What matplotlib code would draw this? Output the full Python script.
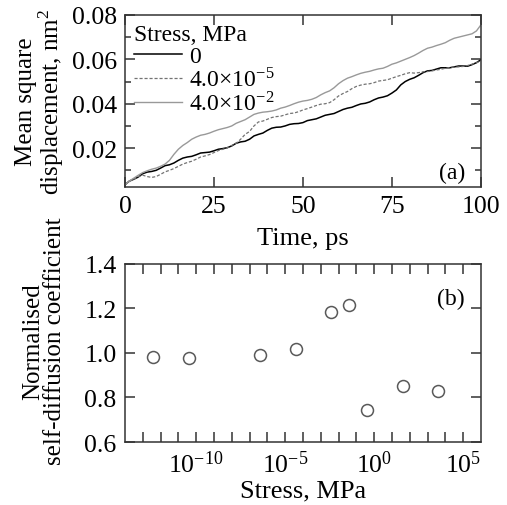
import matplotlib
matplotlib.use("Agg")
import matplotlib.pyplot as plt
from matplotlib.ticker import FixedLocator, MultipleLocator, NullFormatter
import numpy as np

plt.rcParams['font.family'] = 'serif'
plt.rcParams['font.serif'] = ['Liberation Serif', 'DejaVu Serif']
plt.rcParams['mathtext.fontset'] = 'stix'

# (a) mean square displacement vs time (every 1.25 ps)
time_ps = np.linspace(0, 100, 81)
msd_0 = [0.0035, 0.0052, 0.0060, 0.0070, 0.0085, 0.0092, 0.0095, 0.0100, 0.0110, 0.0121,
         0.0125, 0.0133, 0.0145, 0.0155, 0.0160, 0.0163, 0.0170, 0.0178, 0.0180, 0.0182,
         0.0188, 0.0195, 0.0198, 0.0202, 0.0210, 0.0222, 0.0228, 0.0231, 0.0240, 0.0255,
         0.0262, 0.0268, 0.0280, 0.0290, 0.0294, 0.0295, 0.0300, 0.0307, 0.0310, 0.0311,
         0.0315, 0.0324, 0.0328, 0.0332, 0.0340, 0.0348, 0.0352, 0.0356, 0.0365, 0.0374,
         0.0380, 0.0384, 0.0392, 0.0399, 0.0402, 0.0408, 0.0418, 0.0426, 0.0430, 0.0436,
         0.0448, 0.0462, 0.0485, 0.0500, 0.0510, 0.0517, 0.0528, 0.0540, 0.0548, 0.0550,
         0.0556, 0.0562, 0.0562, 0.0562, 0.0566, 0.0570, 0.0570, 0.0569, 0.0576, 0.0585,
         0.0598]
msd_4em5 = [0.0035, 0.0050, 0.0060, 0.0072, 0.0078, 0.0072, 0.0068, 0.0072, 0.0082, 0.0093,
            0.0100, 0.0108, 0.0118, 0.0128, 0.0135, 0.0141, 0.0150, 0.0160, 0.0165, 0.0171,
            0.0180, 0.0189, 0.0195, 0.0202, 0.0212, 0.0222, 0.0240, 0.0262, 0.0275, 0.0300,
            0.0318, 0.0322, 0.0330, 0.0338, 0.0342, 0.0344, 0.0350, 0.0356, 0.0358, 0.0364,
            0.0372, 0.0378, 0.0385, 0.0392, 0.0398, 0.0400, 0.0405, 0.0418, 0.0435, 0.0446,
            0.0455, 0.0468, 0.0478, 0.0484, 0.0488, 0.0490, 0.0495, 0.0502, 0.0505, 0.0508,
            0.0515, 0.0522, 0.0528, 0.0535, 0.0540, 0.0538, 0.0540, 0.0544, 0.0545, 0.0548,
            0.0552, 0.0555, 0.0560, 0.0563, 0.0565, 0.0566, 0.0568, 0.0572, 0.0578, 0.0584,
            0.0595]
msd_4em2 = [0.0035, 0.0052, 0.0065, 0.0078, 0.0090, 0.0098, 0.0105, 0.0110, 0.0118, 0.0128,
            0.0145, 0.0172, 0.0195, 0.0212, 0.0225, 0.0240, 0.0250, 0.0258, 0.0262, 0.0268,
            0.0276, 0.0283, 0.0288, 0.0293, 0.0300, 0.0312, 0.0320, 0.0328, 0.0340, 0.0352,
            0.0358, 0.0362, 0.0364, 0.0367, 0.0372, 0.0380, 0.0385, 0.0392, 0.0400, 0.0407,
            0.0412, 0.0415, 0.0420, 0.0428, 0.0440, 0.0450, 0.0458, 0.0472, 0.0490, 0.0504,
            0.0515, 0.0522, 0.0530, 0.0537, 0.0542, 0.0546, 0.0552, 0.0557, 0.0560, 0.0568,
            0.0578, 0.0584, 0.0592, 0.0600, 0.0608, 0.0617, 0.0628, 0.0640, 0.0650, 0.0655,
            0.0662, 0.0668, 0.0675, 0.0686, 0.0695, 0.0700, 0.0705, 0.0710, 0.0715, 0.0728,
            0.0755]
legend_labels = ['0', '4.0×10$^{\\mathdefault{-5}}$', '4.0×10$^{\\mathdefault{-2}}$']

# (b) normalised self-diffusion coefficient vs stress
stress_mpa = [4e-13, 4e-11, 4e-7, 4e-5, 4e-3, 4e-2, 4e-1, 4e1, 4e3]
diff_coeff = [0.982, 0.978, 0.989, 1.019, 1.183, 1.216, 0.744, 0.853, 0.830]

fig = plt.figure(figsize=(5.07, 5.06), dpi=100)
ax1 = fig.add_axes([0.2465, 0.6285, 0.702, 0.34])
ax2 = fig.add_axes([0.2465, 0.1245, 0.702, 0.352])

spine_col = '0.2'
for ax in (ax1, ax2):
    for s in ax.spines.values():
        s.set_linewidth(1.1)
        s.set_color(spine_col)
    ax.tick_params(which='both', direction='in', top=True, right=True,
                   color=spine_col, width=1.1, labelsize=18.5, pad=6)

# --- panel (a)
ax1.plot(time_ps, msd_0, color='black', lw=1.1, label=legend_labels[0])
ax1.plot(time_ps, msd_4em5, color='0.45', lw=0.9, ls=(0, (2.5, 1.5)), label=legend_labels[1])
ax1.plot(time_ps, msd_4em2, color='0.6', lw=1.0, label=legend_labels[2])
ax1.set_xlim(0, 100)
ax1.set_ylim(0.0025, 0.08)
ax1.xaxis.set_major_locator(MultipleLocator(25))
ax1.yaxis.set_major_locator(FixedLocator([0.02, 0.04, 0.06, 0.08]))
ax1.yaxis.set_minor_locator(FixedLocator([0.01, 0.03, 0.05, 0.07]))
ax1.set_yticklabels(['0.02', '0.04', '0.06', '0.08'])
ax1.tick_params(which='major', length=7)
ax1.tick_params(which='minor', length=4)
ax1.set_xlabel('Time, ps', fontsize=19, labelpad=7)
ax1.set_ylabel('Mean square\ndisplacement, nm$^{\\mathdefault{2}}$', fontsize=18, linespacing=1.0)
ax1.yaxis.set_label_coords(-0.165, 0.5)
leg = ax1.legend(title='Stress, MPa', loc='upper left', frameon=False, fontsize=17,
                 title_fontsize=17, handlelength=2.0, handletextpad=0.3, labelspacing=0.0,
                 borderaxespad=0.15, borderpad=0.25, alignment='left')
ax1.text(0.955, 0.025, '(a)', transform=ax1.transAxes, ha='right', va='bottom', fontsize=17)

# --- panel (b)
ax2.semilogx(stress_mpa, diff_coeff, ls='none', marker='o', ms=8.6, mfc='none',
             mec='0.35', mew=1.1)
ax2.set_xlim(1e-14, 1e6)
ax2.set_ylim(0.6, 1.4)
ax2.xaxis.set_major_locator(FixedLocator([1e-10, 1e-5, 1e0, 1e5]))
ax2.xaxis.set_minor_locator(FixedLocator([10.0 ** k for k in range(-13, 6)]))
ax2.xaxis.set_minor_formatter(NullFormatter())
ax2.yaxis.set_major_locator(FixedLocator([0.6, 0.8, 1.0, 1.2, 1.4]))
ax2.set_yticklabels(['0.6', '0.8', '1.0', '1.2', '1.4'])
ax2.yaxis.set_minor_locator(FixedLocator([]))
ax2.tick_params(which='both', length=7)
ax2.set_xlabel('Stress, MPa', fontsize=19, labelpad=2)
ax2.set_ylabel('Normalised\nself-diffusion coefficient', fontsize=18, linespacing=1.0)
ax2.yaxis.set_label_coords(-0.165, 0.57)
ax2.text(0.955, 0.745, '(b)', transform=ax2.transAxes, ha='right', va='bottom', fontsize=17)

fig.savefig('out.png', dpi=100)
